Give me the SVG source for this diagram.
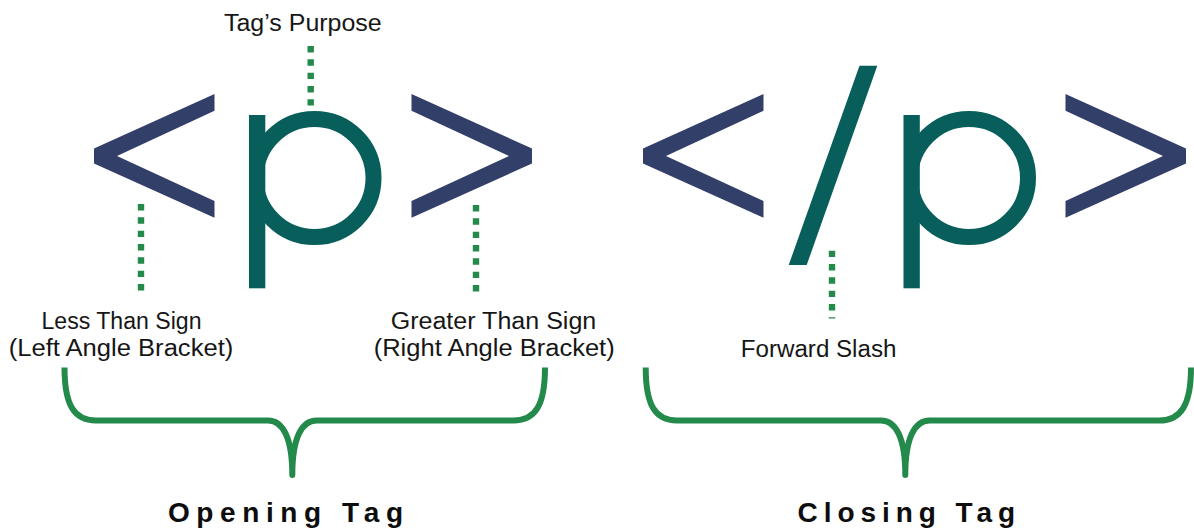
<svg xmlns="http://www.w3.org/2000/svg" xmlns:xlink="http://www.w3.org/1999/xlink" width="1194" height="531" viewBox="0 0 1194 531">
  <style>
    .bracket { fill: #323F68; }
    .glyph { fill: #075E5B; }
    .bowl { fill: none; stroke: #075E5B; stroke-width: 16; }
    .dots { stroke: #238A4B; stroke-width: 6.4; stroke-dasharray: 6.4 6.93; fill: none; }
    .brace { fill: none; stroke: #238A4B; stroke-width: 6; stroke-linejoin: round; stroke-linecap: butt; }
    .label { font-family: "Liberation Sans", Arial, sans-serif; font-size: 23px; fill: #161616; }
    .title { font-family: "Liberation Sans", Arial, sans-serif; font-size: 28px; font-weight: bold; fill: #0d0d0d; }
  </style>
  <defs>
    <!-- angle bracket "<" drawn with its tip at x=0 -->
    <path id="lt" d="M120.5 94 L0 148.5 L0 163.5 L120.5 217.7 L120.5 201 L23 156 L120.5 110.8 Z"/>
    <!-- keep each bowl to the right of its stem -->
    <clipPath id="bowl-open"><rect x="257" y="100" width="140" height="160"/></clipPath>
    <clipPath id="bowl-close"><rect x="911.5" y="100" width="140" height="160"/></clipPath>
  </defs>

  <!-- opening tag: <p> -->
  <g id="open-lt" class="bracket"><use xlink:href="#lt" transform="translate(94,0)"/></g>
  <g id="open-p">
    <rect class="glyph" x="249" y="115" width="16.3" height="173.3"/>
    <circle class="bowl" cx="314.5" cy="178" r="59" clip-path="url(#bowl-open)"/>
  </g>
  <g id="open-gt" class="bracket"><use xlink:href="#lt" transform="translate(532,0) scale(-1,1)"/></g>

  <!-- closing tag: </p> -->
  <g id="close-lt" class="bracket"><use xlink:href="#lt" transform="translate(643,0)"/></g>
  <g id="slash"><polygon class="glyph" points="859.5,65.7 877.3,65.7 806.7,265 788.7,265"/></g>
  <g id="close-p">
    <rect class="glyph" x="903.5" y="115" width="16.3" height="173.3"/>
    <circle class="bowl" cx="969" cy="178" r="59" clip-path="url(#bowl-close)"/>
  </g>
  <g id="close-gt" class="bracket"><use xlink:href="#lt" transform="translate(1186,0) scale(-1,1)"/></g>

  <!-- pointers and braces -->
  <g id="connectors">
    <line class="dots" x1="310.7" y1="46" x2="310.7" y2="105.5"/>
    <line class="dots" x1="141" y1="204" x2="141" y2="290.5"/>
    <line class="dots" x1="476" y1="205" x2="476" y2="291.5"/>
    <line class="dots" x1="832" y1="250.7" x2="832" y2="318.5"/>
    <path class="brace" d="M64.5 367.5 C64.5 405 74 420.5 96 420.5 L268 420.5 C283 420.5 292.3 438 292.3 475 C292.3 438 301.6 420.5 316.6 420.5 L513.5 420.5 C535.5 420.5 545 405 545 367.5"/>
    <path class="brace" d="M645.7 367.5 C645.7 405 655 420.5 677 420.5 L881 420.5 C896 420.5 905.3 438 905.3 475 C905.3 438 914.6 420.5 929.6 420.5 L1159 420.5 C1181 420.5 1191 405 1191 367.5"/>
  </g>

  <!-- labels -->
  <g id="label-purpose"><text class="label" x="224" y="30.5" textLength="157.7" lengthAdjust="spacingAndGlyphs">Tag’s Purpose</text></g>
  <g id="label-less">
    <text class="label" x="41.5" y="329.3" textLength="160" lengthAdjust="spacingAndGlyphs">Less Than Sign</text>
    <text class="label" x="8.7" y="355.7" textLength="224.6" lengthAdjust="spacingAndGlyphs">(Left Angle Bracket)</text>
  </g>
  <g id="label-greater">
    <text class="label" x="390.7" y="329.3" textLength="205.6" lengthAdjust="spacingAndGlyphs">Greater Than Sign</text>
    <text class="label" x="373.7" y="355.7" textLength="241" lengthAdjust="spacingAndGlyphs">(Right Angle Bracket)</text>
  </g>
  <g id="label-slash"><text class="label" x="740.8" y="356.7" textLength="155.6" lengthAdjust="spacingAndGlyphs">Forward Slash</text></g>
  <g id="title-opening"><text class="title" x="168" y="522" textLength="235" lengthAdjust="spacing">Opening Tag</text></g>
  <g id="title-closing"><text class="title" x="797.6" y="522" textLength="217.4" lengthAdjust="spacing">Closing Tag</text></g>
</svg>
